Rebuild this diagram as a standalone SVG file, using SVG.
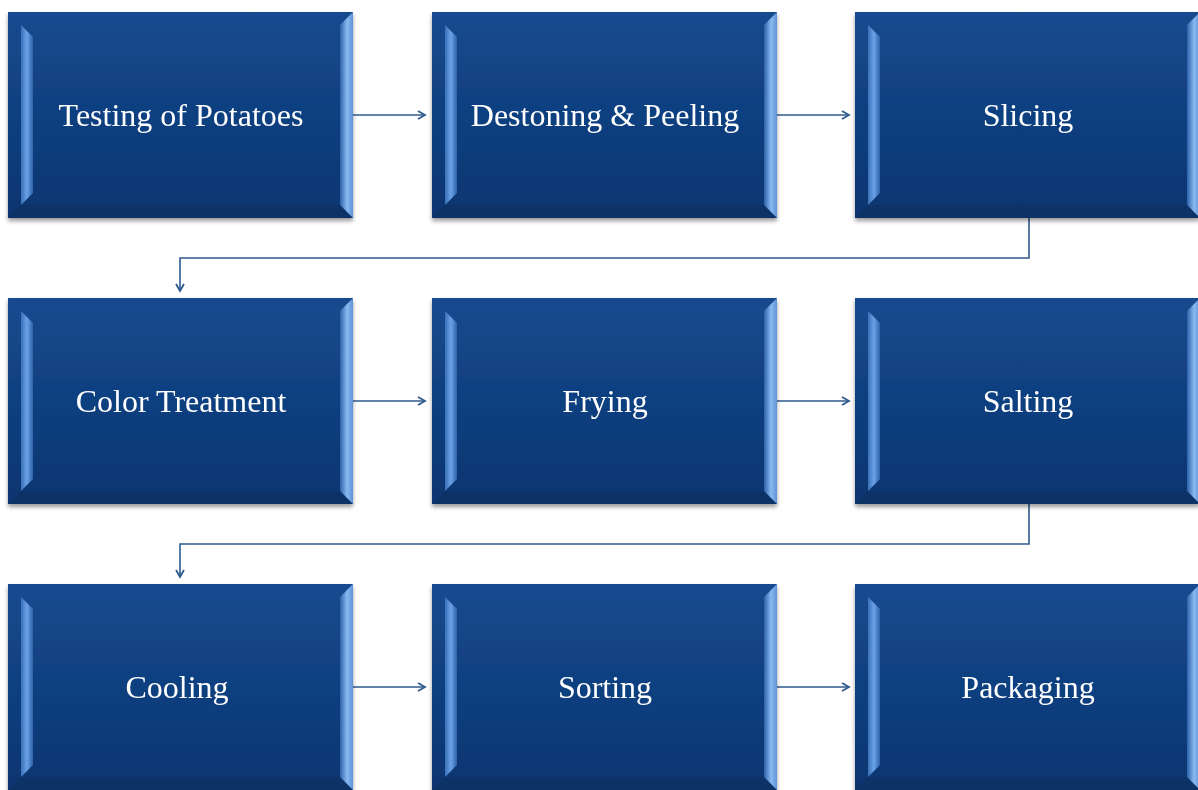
<svg xmlns="http://www.w3.org/2000/svg" width="1198" height="790" viewBox="0 0 1198 790">
<defs>
<linearGradient id="face" x1="0" y1="0" x2="0" y2="1">
<stop offset="0" stop-color="#154a8f"/>
<stop offset="1" stop-color="#0c3570"/>
</linearGradient>
<linearGradient id="lside" x1="0" y1="0" x2="1" y2="0">
<stop offset="0" stop-color="#3a70b8"/>
<stop offset="0.5" stop-color="#6aa2e6"/>
<stop offset="1" stop-color="#2d62aa"/>
</linearGradient>
<linearGradient id="rside" x1="0" y1="0" x2="1" y2="0">
<stop offset="0" stop-color="#2c62aa"/>
<stop offset="0.55" stop-color="#8ab9f0"/>
<stop offset="1" stop-color="#5b92d6"/>
</linearGradient>
<filter id="sh" x="-5%" y="-5%" width="110%" height="115%">
<feGaussianBlur in="SourceAlpha" stdDeviation="2"/>
<feOffset dx="0" dy="3"/>
<feComponentTransfer><feFuncA type="linear" slope="0.4"/></feComponentTransfer>
<feMerge><feMergeNode/><feMergeNode in="SourceGraphic"/></feMerge>
</filter>
<g id="box">
<rect x="0" y="0" width="345" height="206" fill="url(#face)"/>
<polygon points="13,13 25,25 25,181 13,193" fill="url(#lside)"/>
<polygon points="0,206 13,193 332,193 345,206" fill="#0a2f63" opacity="0.7"/>
<polygon points="332,13 345,0 345,206 332,193" fill="url(#rside)"/>
</g>
<marker id="ah" markerWidth="10" markerHeight="10" refX="8" refY="5" orient="auto" markerUnits="userSpaceOnUse">
<path d="M1,1 L8,5 L1,9" fill="none" stroke="#2f5a8f" stroke-width="1.8"/>
</marker>
</defs>
<style>
.lbl{font-family:"Liberation Serif","Times New Roman",serif;font-size:32px;fill:#ffffff;text-anchor:middle}
.c{fill:none;stroke:#2f5a8f;stroke-width:1.6}
</style>
<rect width="1198" height="790" fill="#ffffff"/>
<g id="connectors">
<line class="c" x1="353" y1="115" x2="425" y2="115" marker-end="url(#ah)"/>
<line class="c" x1="777" y1="115" x2="849" y2="115" marker-end="url(#ah)"/>
<polyline class="c" points="1029,218 1029,258 180,258 180,291" marker-end="url(#ah)"/>
<line class="c" x1="353" y1="401" x2="425" y2="401" marker-end="url(#ah)"/>
<line class="c" x1="777" y1="401" x2="849" y2="401" marker-end="url(#ah)"/>
<polyline class="c" points="1029,504 1029,544 180,544 180,577" marker-end="url(#ah)"/>
<line class="c" x1="353" y1="687" x2="425" y2="687" marker-end="url(#ah)"/>
<line class="c" x1="777" y1="687" x2="849" y2="687" marker-end="url(#ah)"/>
</g>
<g id="n1" filter="url(#sh)"><use href="#box" x="8" y="12"/><text class="lbl" x="181" y="126">Testing of Potatoes</text></g>
<g id="n2" filter="url(#sh)"><use href="#box" x="432" y="12"/><text class="lbl" x="605" y="126">Destoning &amp; Peeling</text></g>
<g id="n3" filter="url(#sh)"><use href="#box" x="855" y="12"/><text class="lbl" x="1028" y="126">Slicing</text></g>
<g id="n4" filter="url(#sh)"><use href="#box" x="8" y="298"/><text class="lbl" x="181" y="412">Color Treatment</text></g>
<g id="n5" filter="url(#sh)"><use href="#box" x="432" y="298"/><text class="lbl" x="605" y="412">Frying</text></g>
<g id="n6" filter="url(#sh)"><use href="#box" x="855" y="298"/><text class="lbl" x="1028" y="412">Salting</text></g>
<g id="n7" filter="url(#sh)"><use href="#box" x="8" y="584"/><text class="lbl" x="177" y="698">Cooling</text></g>
<g id="n8" filter="url(#sh)"><use href="#box" x="432" y="584"/><text class="lbl" x="605" y="698">Sorting</text></g>
<g id="n9" filter="url(#sh)"><use href="#box" x="855" y="584"/><text class="lbl" x="1028" y="698">Packaging</text></g>
</svg>
